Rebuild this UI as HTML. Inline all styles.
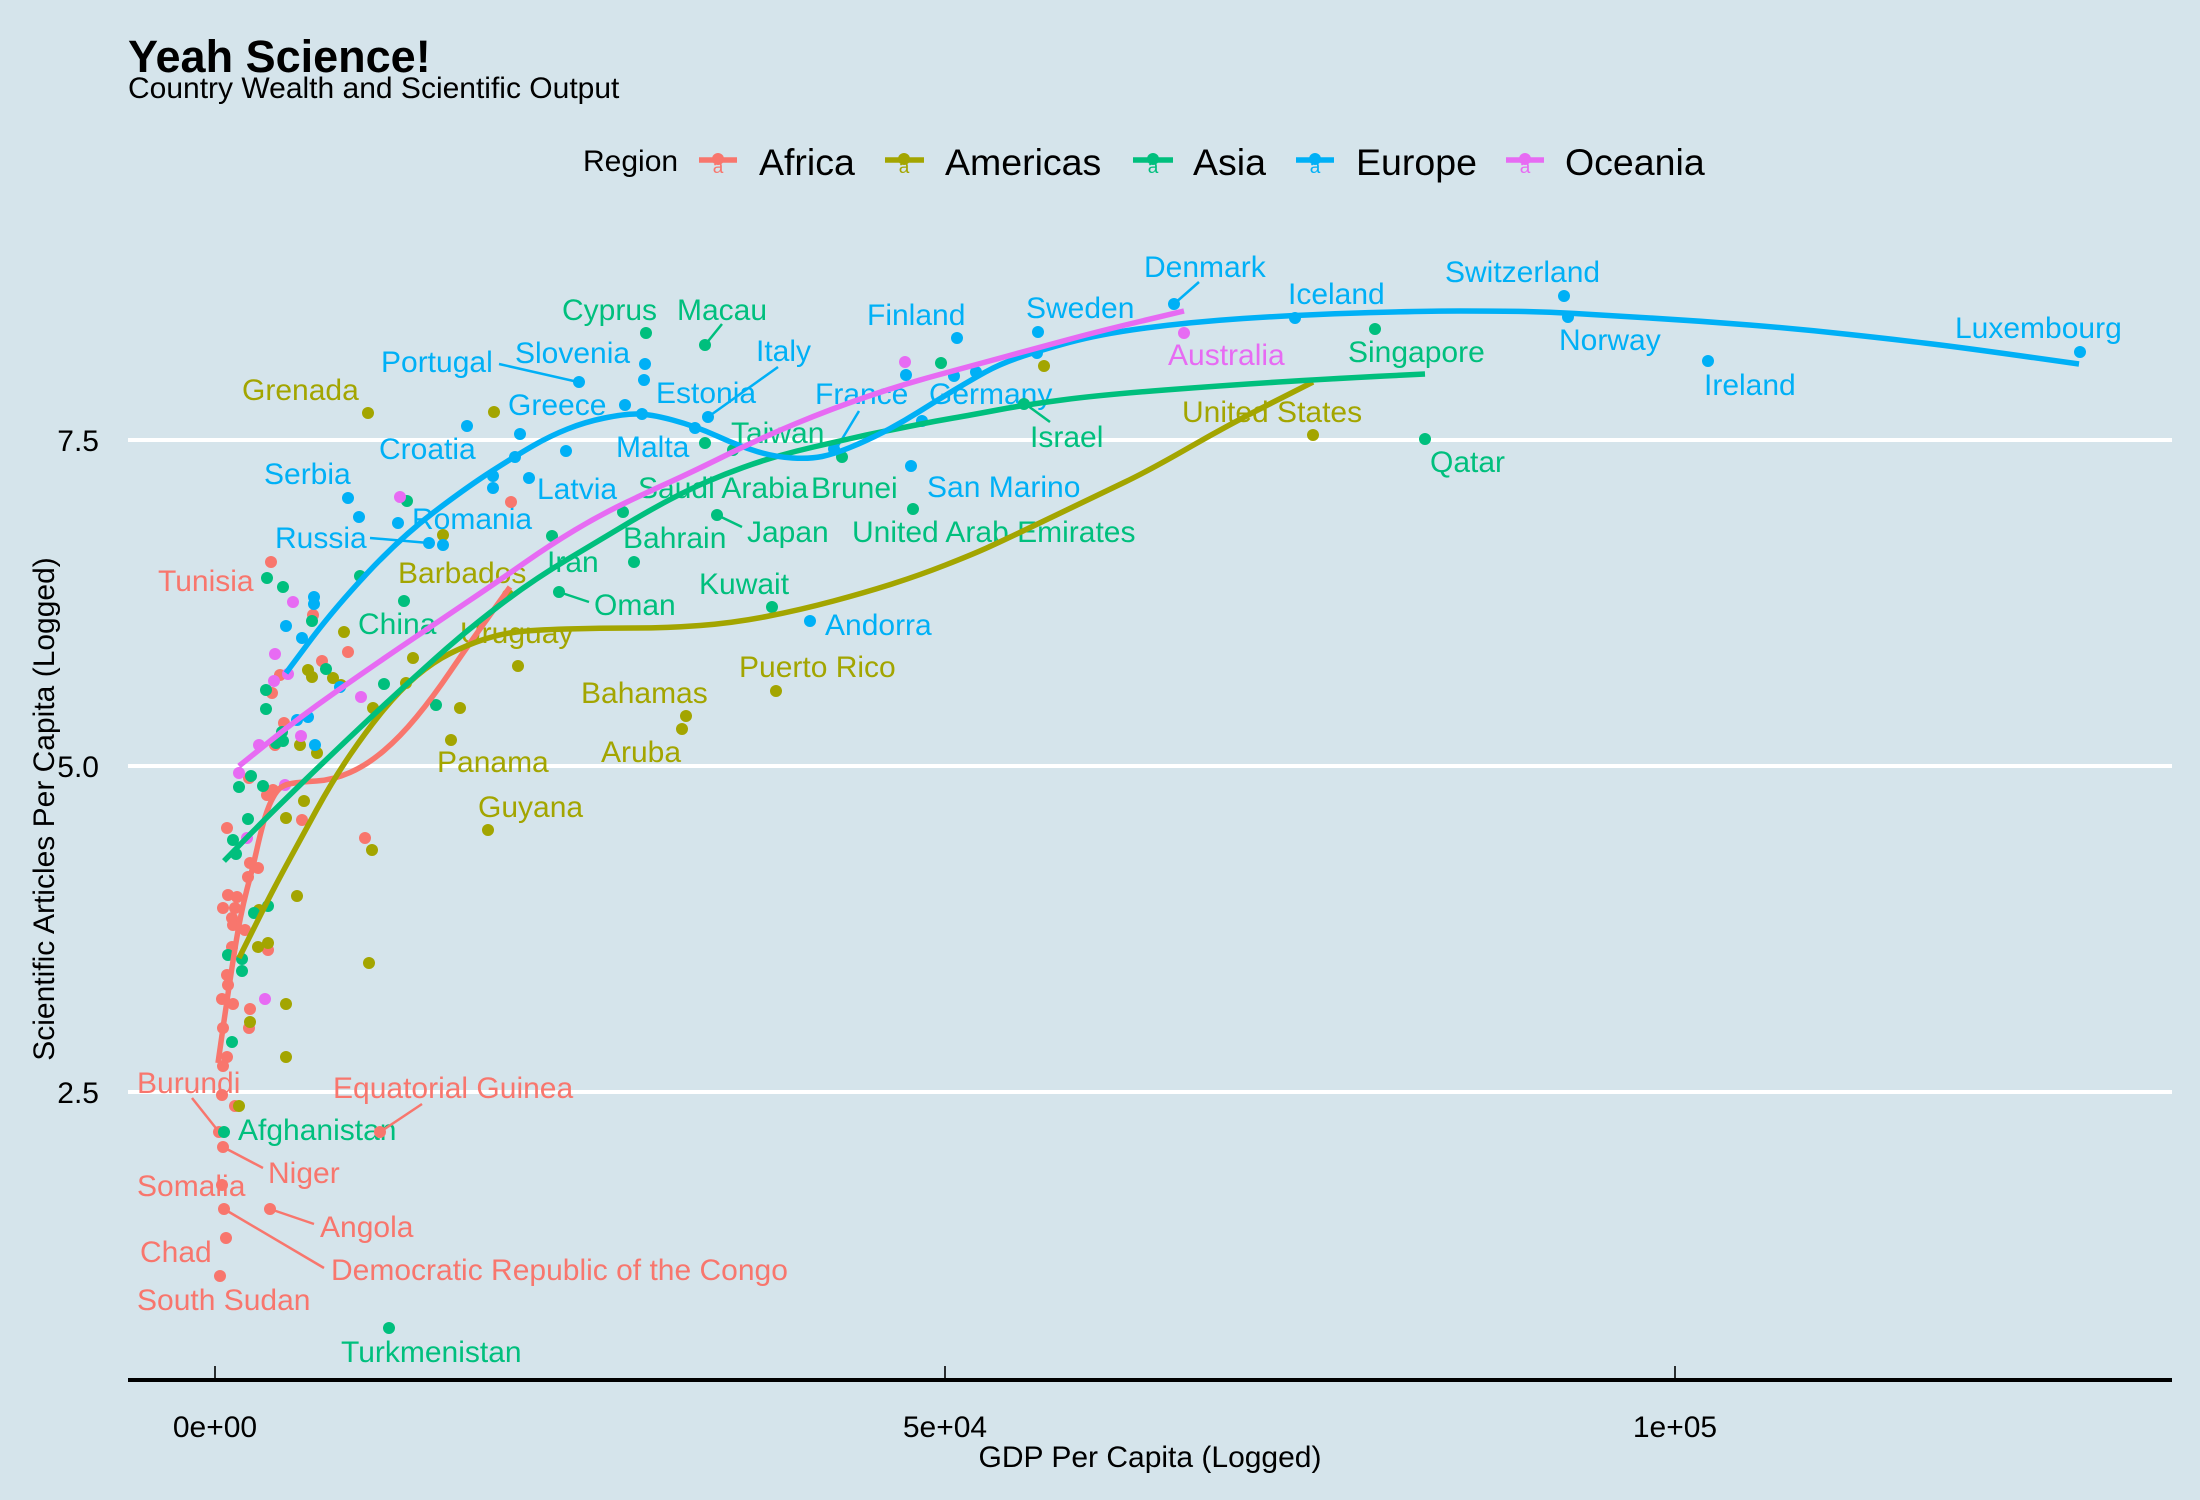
<!DOCTYPE html>
<html><head><meta charset="utf-8"><style>
html,body{margin:0;padding:0;background:#d5e4eb;}
svg{display:block;font-family:"Liberation Sans",Arial,sans-serif;}
</style></head><body>
<svg width="2200" height="1500" viewBox="0 0 2200 1500" xmlns="http://www.w3.org/2000/svg">
<rect width="2200" height="1500" fill="#d5e4eb"/>
<!-- titles -->
<text x="128" y="72" font-size="45" font-weight="bold" fill="#000">Yeah Science!</text>
<text x="128" y="98" font-size="30" fill="#000">Country Wealth and Scientific Output</text>
<!-- legend -->
<text x="583" y="171" font-size="30" fill="#000">Region</text>
<g font-size="37.5" fill="#000">
<text x="759" y="175">Africa</text>
<text x="945" y="175">Americas</text>
<text x="1193" y="175">Asia</text>
<text x="1356" y="175">Europe</text>
<text x="1565" y="175">Oceania</text>
</g>
<g stroke-width="5.5">
<line x1="699" y1="160" x2="737" y2="160" stroke="#F8766D"/>
<line x1="885" y1="160" x2="924" y2="160" stroke="#A3A500"/>
<line x1="1133" y1="160" x2="1173" y2="160" stroke="#00BF7D"/>
<line x1="1296" y1="160" x2="1334" y2="160" stroke="#00B0F6"/>
<line x1="1506" y1="160" x2="1544" y2="160" stroke="#E76BF3"/>
</g>
<circle cx="718" cy="159" r="6" fill="#F8766D"/>
<circle cx="904" cy="159" r="6" fill="#A3A500"/>
<circle cx="1153" cy="159" r="6" fill="#00BF7D"/>
<circle cx="1315" cy="159" r="6" fill="#00B0F6"/>
<circle cx="1525" cy="159" r="6" fill="#E76BF3"/>
<g font-size="19" text-anchor="middle">
<text x="718" y="173" fill="#F8766D">a</text>
<text x="904" y="173" fill="#A3A500">a</text>
<text x="1153" y="173" fill="#00BF7D">a</text>
<text x="1315" y="173" fill="#00B0F6">a</text>
<text x="1525" y="173" fill="#E76BF3">a</text>
</g>
<!-- grid -->
<g stroke="#ffffff" stroke-width="4">
<line x1="128" y1="440" x2="2172" y2="440"/>
<line x1="128" y1="766" x2="2172" y2="766"/>
<line x1="128" y1="1092" x2="2172" y2="1092"/>
</g>
<!-- axes -->
<line x1="128" y1="1380" x2="2172" y2="1380" stroke="#000" stroke-width="4"/>
<g stroke="#000" stroke-width="1.6">
<line x1="215" y1="1366" x2="215" y2="1380"/>
<line x1="945" y1="1366" x2="945" y2="1380"/>
<line x1="1675" y1="1366" x2="1675" y2="1380"/>
</g>
<g font-size="30" fill="#000" text-anchor="middle">
<text x="215" y="1437">0e+00</text>
<text x="945" y="1437">5e+04</text>
<text x="1675" y="1437">1e+05</text>
<text x="1150" y="1467">GDP Per Capita (Logged)</text>
<text transform="translate(54,809) rotate(-90)">Scientific Articles Per Capita (Logged)</text>
</g>
<g font-size="30" fill="#000" text-anchor="end">
<text x="99" y="451">7.5</text>
<text x="99" y="777">5.0</text>
<text x="99" y="1103">2.5</text>
</g>
<!-- labels -->
<g font-size="30">
<g fill="#00BF7D">
<text x="562" y="320">Cyprus</text>
<text x="677" y="320">Macau</text>
<text x="1348" y="362">Singapore</text>
<text x="1430" y="472">Qatar</text>
<text x="1030" y="447">Israel</text>
<text x="731" y="443">Taiwan</text>
<text x="638" y="498">Saudi Arabia</text>
<text x="811" y="498">Brunei</text>
<text x="747" y="542">Japan</text>
<text x="852" y="542">United Arab Emirates</text>
<text x="623" y="548">Bahrain</text>
<text x="547" y="572">Iran</text>
<text x="594" y="615">Oman</text>
<text x="699" y="594">Kuwait</text>
<text x="358" y="634">China</text>
<text x="238" y="1140">Afghanistan</text>
<text x="341" y="1362">Turkmenistan</text>
</g>
<g fill="#00B0F6">
<text x="867" y="325">Finland</text>
<text x="1026" y="318">Sweden</text>
<text x="1144" y="277">Denmark</text>
<text x="1288" y="304">Iceland</text>
<text x="1445" y="282">Switzerland</text>
<text x="1955" y="338">Luxembourg</text>
<text x="1559" y="350">Norway</text>
<text x="1704" y="395">Ireland</text>
<text x="515" y="363">Slovenia</text>
<text x="381" y="372">Portugal</text>
<text x="756" y="361">Italy</text>
<text x="508" y="415">Greece</text>
<text x="656" y="403">Estonia</text>
<text x="815" y="404">France</text>
<text x="929" y="404">Germany</text>
<text x="616" y="457">Malta</text>
<text x="379" y="459">Croatia</text>
<text x="264" y="484">Serbia</text>
<text x="537" y="499">Latvia</text>
<text x="927" y="497">San Marino</text>
<text x="412" y="529">Romania</text>
<text x="275" y="548">Russia</text>
<text x="825" y="635">Andorra</text>
</g>
<g fill="#E76BF3">
<text x="1168" y="365">Australia</text>
</g>
<g fill="#A3A500">
<text x="1182" y="422">United States</text>
<text x="242" y="400">Grenada</text>
<text x="398" y="583">Barbados</text>
<text x="460" y="643">Uruguay</text>
<text x="739" y="677">Puerto Rico</text>
<text x="581" y="703">Bahamas</text>
<text x="601" y="762">Aruba</text>
<text x="437" y="772">Panama</text>
<text x="478" y="817">Guyana</text>
</g>
<g fill="#F8766D">
<text x="158" y="591">Tunisia</text>
<text x="137" y="1093">Burundi</text>
<text x="333" y="1098">Equatorial Guinea</text>
<text x="268" y="1183">Niger</text>
<text x="137" y="1196">Somalia</text>
<text x="320" y="1237">Angola</text>
<text x="331" y="1280">Democratic Republic of the Congo</text>
<text x="140" y="1262">Chad</text>
<text x="137" y="1310">South Sudan</text>
</g>
</g>
<!-- segments -->
<g stroke-width="2.5">
<g stroke="#00B0F6">
<line x1="499" y1="364" x2="578" y2="382"/>
<line x1="778" y1="367" x2="708" y2="417"/>
<line x1="859" y1="411" x2="836" y2="449"/>
<line x1="1199" y1="282" x2="1174" y2="304"/>
<line x1="370" y1="538" x2="429" y2="543"/>
</g>
<g stroke="#00BF7D">
<line x1="722" y1="324" x2="705" y2="345"/>
<line x1="1050" y1="422" x2="1024" y2="403"/>
<line x1="742" y1="527" x2="717" y2="515"/>
<line x1="589" y1="602" x2="559" y2="592"/>
</g>
<g stroke="#F8766D">
<line x1="192" y1="1098" x2="219" y2="1132"/>
<line x1="422" y1="1104" x2="380" y2="1132"/>
<line x1="263" y1="1168" x2="223" y2="1147"/>
<line x1="314" y1="1224" x2="270" y2="1209"/>
<line x1="324" y1="1268" x2="224" y2="1209"/>
</g>
</g>
<!-- points -->
<g fill="#F8766D">
<circle cx="511" cy="502" r="6"/><circle cx="271" cy="562" r="6"/><circle cx="313" cy="615" r="6"/><circle cx="348" cy="652" r="6"/><circle cx="322" cy="661" r="6"/><circle cx="280" cy="675" r="6"/><circle cx="272" cy="693" r="6"/><circle cx="284" cy="723" r="6"/><circle cx="275" cy="745" r="6"/><circle cx="249" cy="778" r="6"/><circle cx="267" cy="795" r="6"/><circle cx="273" cy="790" r="6"/><circle cx="302" cy="820" r="6"/><circle cx="227" cy="828" r="6"/><circle cx="365" cy="838" r="6"/><circle cx="250" cy="863" r="6"/><circle cx="258" cy="868" r="6"/><circle cx="248" cy="877" r="6"/><circle cx="228" cy="895" r="6"/><circle cx="237" cy="897" r="6"/><circle cx="223" cy="908" r="6"/><circle cx="235" cy="908" r="6"/><circle cx="232" cy="918" r="6"/><circle cx="233" cy="925" r="6"/><circle cx="245" cy="930" r="6"/><circle cx="232" cy="947" r="6"/><circle cx="268" cy="950" r="6"/><circle cx="227" cy="975" r="6"/><circle cx="228" cy="985" r="6"/><circle cx="222" cy="999" r="6"/><circle cx="233" cy="1004" r="6"/><circle cx="250" cy="1009" r="6"/><circle cx="249" cy="1028" r="6"/><circle cx="223" cy="1028" r="6"/><circle cx="227" cy="1057" r="6"/><circle cx="223" cy="1066" r="6"/><circle cx="222" cy="1095" r="6"/><circle cx="235" cy="1106" r="6"/><circle cx="219" cy="1132" r="6"/><circle cx="223" cy="1147" r="6"/><circle cx="222" cy="1185" r="6"/><circle cx="224" cy="1209" r="6"/><circle cx="270" cy="1209" r="6"/><circle cx="226" cy="1238" r="6"/><circle cx="220" cy="1276" r="6"/><circle cx="380" cy="1132" r="6"/>
</g>
<g fill="#A3A500">
<circle cx="443" cy="535" r="6"/><circle cx="344" cy="632" r="6"/><circle cx="413" cy="658" r="6"/><circle cx="518" cy="666" r="6"/><circle cx="308" cy="670" r="6"/><circle cx="312" cy="677" r="6"/><circle cx="333" cy="678" r="6"/><circle cx="341" cy="685" r="6"/><circle cx="406" cy="683" r="6"/><circle cx="373" cy="708" r="6"/><circle cx="460" cy="708" r="6"/><circle cx="451" cy="740" r="6"/><circle cx="300" cy="745" r="6"/><circle cx="317" cy="753" r="6"/><circle cx="304" cy="801" r="6"/><circle cx="286" cy="818" r="6"/><circle cx="372" cy="850" r="6"/><circle cx="488" cy="830" r="6"/><circle cx="297" cy="896" r="6"/><circle cx="259" cy="910" r="6"/><circle cx="258" cy="947" r="6"/><circle cx="268" cy="943" r="6"/><circle cx="369" cy="963" r="6"/><circle cx="286" cy="1004" r="6"/><circle cx="250" cy="1022" r="6"/><circle cx="286" cy="1057" r="6"/><circle cx="239" cy="1106" r="6"/><circle cx="508" cy="595" r="6"/><circle cx="368" cy="413" r="6"/><circle cx="494" cy="412" r="6"/><circle cx="1044" cy="366" r="6"/><circle cx="776" cy="691" r="6"/><circle cx="686" cy="716" r="6"/><circle cx="682" cy="729" r="6"/><circle cx="1313" cy="435" r="6"/>
</g>
<g fill="#00BF7D">
<circle cx="407" cy="501" r="6"/><circle cx="360" cy="576" r="6"/><circle cx="267" cy="578" r="6"/><circle cx="283" cy="587" r="6"/><circle cx="312" cy="621" r="6"/><circle cx="404" cy="601" r="6"/><circle cx="552" cy="536" r="6"/><circle cx="559" cy="592" r="6"/><circle cx="326" cy="669" r="6"/><circle cx="384" cy="684" r="6"/><circle cx="436" cy="705" r="6"/><circle cx="266" cy="690" r="6"/><circle cx="266" cy="709" r="6"/><circle cx="282" cy="732" r="6"/><circle cx="276" cy="743" r="6"/><circle cx="283" cy="741" r="6"/><circle cx="251" cy="776" r="6"/><circle cx="239" cy="787" r="6"/><circle cx="263" cy="786" r="6"/><circle cx="248" cy="819" r="6"/><circle cx="233" cy="840" r="6"/><circle cx="236" cy="854" r="6"/><circle cx="254" cy="913" r="6"/><circle cx="268" cy="906" r="6"/><circle cx="228" cy="955" r="6"/><circle cx="242" cy="959" r="6"/><circle cx="242" cy="971" r="6"/><circle cx="232" cy="1042" r="6"/><circle cx="224" cy="1132" r="6"/><circle cx="389" cy="1328" r="6"/><circle cx="646" cy="333" r="6"/><circle cx="705" cy="345" r="6"/><circle cx="705" cy="443" r="6"/><circle cx="733" cy="450" r="6"/><circle cx="842" cy="457" r="6"/><circle cx="941" cy="363" r="6"/><circle cx="1024" cy="404" r="6"/><circle cx="623" cy="512" r="6"/><circle cx="717" cy="515" r="6"/><circle cx="913" cy="509" r="6"/><circle cx="634" cy="562" r="6"/><circle cx="772" cy="607" r="6"/><circle cx="1375" cy="329" r="6"/><circle cx="1425" cy="439" r="6"/>
</g>
<g fill="#00B0F6">
<circle cx="348" cy="498" r="6"/><circle cx="359" cy="517" r="6"/><circle cx="398" cy="523" r="6"/><circle cx="429" cy="543" r="6"/><circle cx="443" cy="545" r="6"/><circle cx="493" cy="476" r="6"/><circle cx="493" cy="488" r="6"/><circle cx="515" cy="457" r="6"/><circle cx="529" cy="478" r="6"/><circle cx="566" cy="451" r="6"/><circle cx="314" cy="597" r="6"/><circle cx="314" cy="604" r="6"/><circle cx="286" cy="626" r="6"/><circle cx="302" cy="638" r="6"/><circle cx="340" cy="687" r="6"/><circle cx="297" cy="720" r="6"/><circle cx="308" cy="717" r="6"/><circle cx="315" cy="745" r="6"/><circle cx="579" cy="382" r="6"/><circle cx="645" cy="364" r="6"/><circle cx="644" cy="380" r="6"/><circle cx="625" cy="405" r="6"/><circle cx="642" cy="414" r="6"/><circle cx="695" cy="428" r="6"/><circle cx="708" cy="417" r="6"/><circle cx="467" cy="426" r="6"/><circle cx="520" cy="434" r="6"/><circle cx="957" cy="338" r="6"/><circle cx="906" cy="375" r="6"/><circle cx="954" cy="376" r="6"/><circle cx="976" cy="372" r="6"/><circle cx="1038" cy="332" r="6"/><circle cx="1037" cy="353" r="6"/><circle cx="834" cy="449" r="6"/><circle cx="911" cy="466" r="6"/><circle cx="810" cy="621" r="6"/><circle cx="922" cy="421" r="6"/><circle cx="1174" cy="304" r="6"/><circle cx="1295" cy="318" r="6"/><circle cx="1564" cy="296" r="6"/><circle cx="1568" cy="317" r="6"/><circle cx="1708" cy="361" r="6"/><circle cx="2080" cy="352" r="6"/>
</g>
<g fill="#E76BF3">
<circle cx="400" cy="497" r="6"/><circle cx="293" cy="602" r="6"/><circle cx="275" cy="654" r="6"/><circle cx="288" cy="674" r="6"/><circle cx="274" cy="681" r="6"/><circle cx="361" cy="697" r="6"/><circle cx="301" cy="736" r="6"/><circle cx="259" cy="745" r="6"/><circle cx="239" cy="773" r="6"/><circle cx="247" cy="838" r="6"/><circle cx="285" cy="785" r="6"/><circle cx="265" cy="999" r="6"/><circle cx="905" cy="362" r="6"/><circle cx="1184" cy="333" r="6"/>
</g>
<!-- smooth lines -->
<g fill="none" stroke-width="5.5" stroke-linejoin="round">
<path stroke="#F8766D" d="M218,1063 L222.5,1031.5 Q227,1000 232,967.5 Q237,935 240.5,917.5 Q244,900 248.5,883.5 Q253,867 256.5,851 Q260,835 263.5,822.5 Q267,810 271,801.5 Q275,793 279,789 Q283,785 291.5,783.5 Q300,782 316.5,781 Q333,780 350,772.5 Q367,765 383.5,751 Q400,737 416.5,717 Q433,697 450,672 Q467,647 488.5,617 L510,587"/>
<path stroke="#A3A500" d="M239,958 L248.5,939 Q258,920 265.5,905 Q273,890 286.5,865 Q300,840 316.5,810 Q333,780 350,755 Q367,730 383.5,710 Q400,690 416.5,676 Q433,662 450,653.5 Q467,645 483.5,639.5 Q500,634 516.5,632 Q533,630 566.5,629 Q600,628 633.5,628 Q667,628 700,625.5 Q733,623 766.5,616.5 Q800,610 833.5,601 Q867,592 893.5,583.5 Q920,575 945.5,565 Q971,555 985.5,548.5 Q1000,542 1025,530 Q1050,518 1075,506 Q1100,494 1125,482 Q1150,470 1190,447 Q1230,424 1271.5,403 L1313,382"/>
<path stroke="#00BF7D" d="M224,861 L245.5,839 Q267,817 300,785 Q333,753 366.5,721.5 Q400,690 433.5,660 Q467,630 500,605 Q533,580 566.5,560 Q600,540 625,525 Q650,510 670,499.5 Q690,489 707.5,481.5 Q725,474 743,467.5 Q761,461 778.5,456 Q796,451 813.5,447 Q831,443 848.5,439 Q866,435 883.5,431.5 Q901,428 918.5,424.5 Q936,421 953.5,418 Q971,415 997.5,410 Q1024,405 1062,400 Q1100,395 1165,390 Q1230,385 1287,381.5 Q1344,378 1384.5,376 L1425,374"/>
<path stroke="#00B0F6" d="M286,673 L309.5,641.5 Q333,610 366.5,574 Q400,538 433.5,512.5 Q467,487 492,471 Q517,455 533.5,445.5 Q550,436 567.5,429 Q585,422 604.5,418 Q624,414 637,414 Q650,414 672.5,420 Q695,426 717,436 Q739,446 757,451.5 Q775,457 792.5,458 Q810,459 822,456.5 Q834,454 850,447.5 Q866,441 883.5,432 Q901,423 918.5,412 Q936,401 953.5,390.5 Q971,380 985.5,372 Q1000,364 1019,357.5 Q1038,351 1069,342.5 Q1100,334 1145.5,328 Q1191,322 1243,318.5 Q1295,315 1358,313 Q1421,311 1460.5,311 Q1500,311 1525,311.5 Q1550,312 1575,313.5 Q1600,315 1650,318 Q1700,321 1749.5,325 Q1799,329 1849.5,334.5 Q1900,340 1932.5,344 Q1965,348 2022,356 L2079,364"/>
<path stroke="#E76BF3" d="M239,766 L269.5,741.5 Q300,717 333.5,693.5 Q367,670 400,647.5 Q433,625 466.5,602.5 Q500,580 525,562.5 Q550,545 575,530 Q600,515 625,503 Q650,491 670,482 Q690,473 725.5,455.5 Q761,438 796,423.5 Q831,409 866,397 Q901,385 936,375.5 Q971,366 1006,356.5 Q1041,347 1070.5,339 Q1100,331 1142,321 L1184,311"/>
</g>
</svg>
</body></html>
